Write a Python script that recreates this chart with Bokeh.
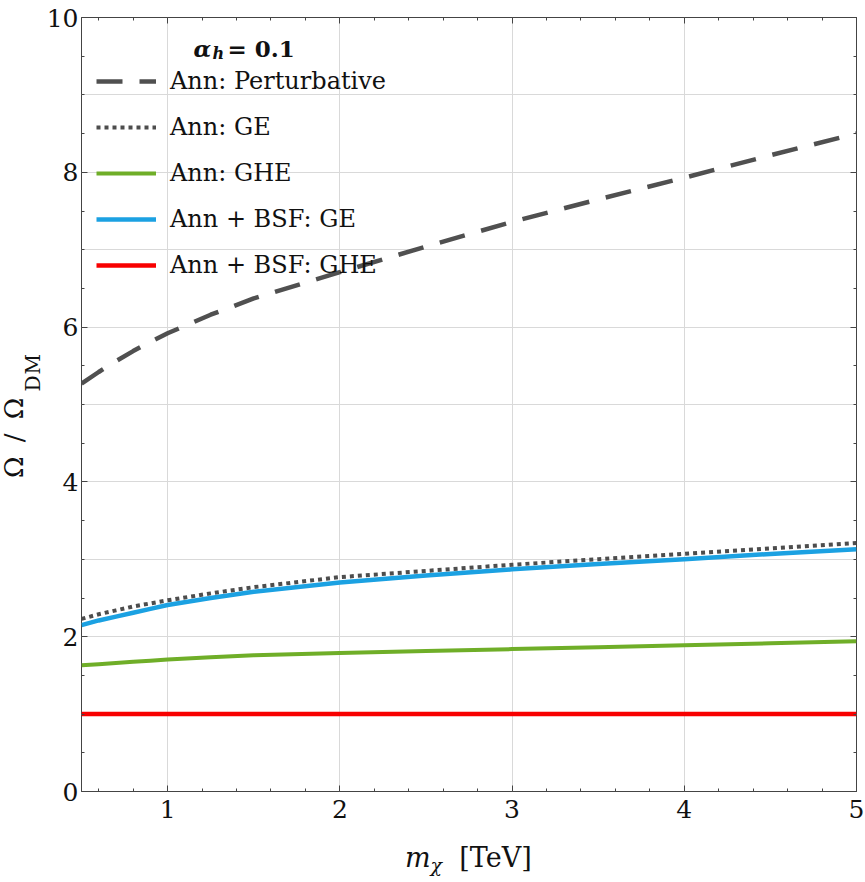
from bokeh.embed import file_html
from bokeh.layouts import column, row
from bokeh.models import (ColumnDataSource, CustomJSTickFormatter, Div, Label, Legend,
                          LegendItem, LinearAxis, Range1d, SingleIntervalTicker)
from bokeh.plotting import figure
from bokeh.resources import INLINE

# Relic abundance relative to the observed DM density, alpha_h = 0.1
m_chi = [0.5, 0.6, 0.7, 0.8, 0.9, 1.0, 1.25, 1.5, 2.0, 2.5, 3.0, 3.5, 4.0, 4.5, 5.0]  # TeV
ann_pert = [5.27, 5.42, 5.56, 5.69, 5.81, 5.92, 6.16, 6.37, 6.71, 7.04, 7.36, 7.65,
            7.93, 8.22, 8.50]
ann_ge = [2.23, 2.29, 2.34, 2.39, 2.43, 2.47, 2.56, 2.64, 2.77, 2.85, 2.93, 3.00,
          3.07, 3.14, 3.21]
ann_ghe = [1.63, 1.645, 1.66, 1.675, 1.69, 1.705, 1.735, 1.76, 1.79, 1.815, 1.84,
           1.865, 1.89, 1.915, 1.94]
bsf_ge = [2.15, 2.21, 2.26, 2.31, 2.36, 2.41, 2.50, 2.58, 2.70, 2.79, 2.87, 2.94,
          3.00, 3.07, 3.13]
bsf_ghe = [1.0] * len(m_chi)

labels = ["Ann: Perturbative", "Ann: GE", "Ann: GHE", "Ann + BSF: GE", "Ann + BSF: GHE"]

SERIF = "DejaVu Serif"
INK = "#444444"
TEXT = "#111111"

LEFT_W = 41      # strip holding the vertical axis title
BOTTOM_H = 52    # strip holding the horizontal axis title
PAGE_W, PAGE_H = 865, 882
PLOT_W, PLOT_H = PAGE_W - LEFT_W, PAGE_H - BOTTOM_H

src = ColumnDataSource(dict(m=m_chi, pert=ann_pert, ge=ann_ge, ghe=ann_ghe,
                            bge=bsf_ge, bghe=bsf_ghe))

p = figure(width=PLOT_W, height=PLOT_H, output_backend="svg", toolbar_location=None,
           x_range=Range1d(0.5, 5.0), y_range=Range1d(0, 10),
           x_axis_location=None, y_axis_location=None,
           min_border_left=40, min_border_right=9, min_border_top=17,
           min_border_bottom=39, margin=0)
p.background_fill_color = "white"
p.border_fill_color = "white"
p.outline_line_color = INK
p.outline_line_width = 1


def make_axis(ticker, show_labels):
    ax = LinearAxis(ticker=ticker)
    ax.axis_line_color = None
    ax.major_tick_in = 6
    ax.major_tick_out = 0
    ax.minor_tick_in = 3
    ax.minor_tick_out = 0
    ax.major_tick_line_color = INK
    ax.minor_tick_line_color = INK
    if show_labels:
        ax.major_label_text_font = SERIF
        ax.major_label_text_font_size = "25px"
        ax.major_label_text_color = TEXT
    else:
        ax.formatter = CustomJSTickFormatter(code="return ''")
        ax.major_label_standoff = 0
        ax.major_label_text_font_size = "1px"
    return ax


xb = make_axis(SingleIntervalTicker(interval=1, num_minor_ticks=5), True)
xb.major_label_standoff = 8
p.add_layout(xb, "below")
yl = make_axis(SingleIntervalTicker(interval=2, num_minor_ticks=4), True)
yl.major_label_standoff = 3
p.add_layout(yl, "left")
p.add_layout(make_axis(SingleIntervalTicker(interval=1, num_minor_ticks=5), False), "above")
p.add_layout(make_axis(SingleIntervalTicker(interval=2, num_minor_ticks=4), False), "right")

p.xgrid.ticker = SingleIntervalTicker(interval=1)
p.ygrid.ticker = SingleIntervalTicker(interval=1)
p.xgrid.grid_line_color = "#d9d9d9"
p.ygrid.grid_line_color = "#d9d9d9"

line_kw = dict(source=src, line_join="round")
r_ghe = p.line("m", "ghe", line_color="#6fae28", line_width=4, **line_kw)
r_bghe = p.line("m", "bghe", line_color="#f80000", line_width=4.5, **line_kw)
r_bge = p.line("m", "bge", line_color="#1ba1e2", line_width=4.5, **line_kw)
r_ge = p.line("m", "ge", line_color="#4d4d4d", line_width=4, line_dash="4 4", **line_kw)
r_pert = p.line("m", "pert", line_color="#505050", line_width=4.5, line_dash="26 17",
                **line_kw)

legend = Legend(items=[LegendItem(label=lab, renderers=[r]) for lab, r in
                       zip(labels, [r_pert, r_ge, r_ghe, r_bge, r_bghe])],
                location=(15, 511))
legend.label_text_font = SERIF
legend.label_text_font_size = "24px"
legend.label_text_color = TEXT
legend.glyph_width = 60
legend.glyph_height = 30
legend.label_height = 30
legend.label_standoff = 14
legend.spacing = 16
legend.padding = 0
legend.margin = 0
legend.background_fill_alpha = 0
legend.border_line_alpha = 0
p.add_layout(legend)


def label(txt, x, y, size, style="normal"):
    p.add_layout(Label(x=x, y=y, x_units="screen", y_units="screen", text=txt,
                       text_font=SERIF, text_font_size=size,
                       text_font_style=style, text_color=TEXT,
                       text_baseline="alphabetic", text_align="left"))


# legend heading: alpha_h = 0.1
label("α", 112, 743, "23px", "bold italic")
label("h", 131, 738, "16px", "bold italic")
label("= 0.1", 146, 743, "23px", "bold")

font_css = f"font-family:'{SERIF}';color:{TEXT};white-space:nowrap;"

# vertical axis title: Omega / Omega_DM, read bottom to top
y_title = Div(
    width=LEFT_W, height=PAGE_H, margin=0,
    text=(f'<div style="position:relative;width:{LEFT_W}px;height:{PAGE_H}px;">'
          f'<div style="position:absolute;left:1px;top:478px;transform-origin:0 0;'
          f'transform:rotate(-90deg);{font_css}font-size:26px;line-height:26px;'
          f'word-spacing:6px;">Ω / Ω<span style="font-size:20px;position:relative;'
          f'top:17px;margin-left:6px;letter-spacing:1px;">DM</span></div></div>'))

# horizontal axis title: m_chi [TeV]
x_title = Div(
    width=PLOT_W, height=BOTTOM_H, margin=0,
    text=(f'<div style="position:relative;width:{PLOT_W}px;height:{BOTTOM_H}px;">'
          f'<div style="position:absolute;left:{405 - LEFT_W}px;top:14px;{font_css}'
          f'font-size:27px;line-height:27px;"><i>m</i><span style="font-style:italic;'
          f'font-size:19px;position:relative;top:5px;">χ</span>&nbsp;&nbsp;[TeV]'
          f'</div></div>'))

page = row(y_title, column(p, x_title, spacing=0, margin=0), spacing=0, margin=0)

open("out.html", "w").write(file_html(page, INLINE))
